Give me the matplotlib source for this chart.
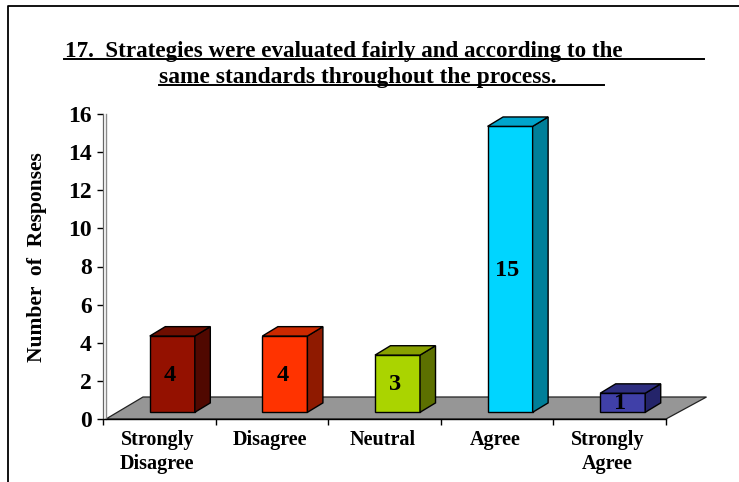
import matplotlib
matplotlib.use("Agg")
import matplotlib.pyplot as plt
from matplotlib.patches import Polygon
from matplotlib.transforms import ScaledTranslation

categories = ["Strongly\nDisagree", "Disagree", "Neutral", "Agree", "Strongly\nAgree"]
values = [4, 4, 3, 15, 1]
front_colors = ["#941100", "#ff3300", "#aad400", "#00d5ff", "#4040a8"]
top_colors = ["#6e0e00", "#cc2900", "#88a000", "#00a5cc", "#2e2e80"]
side_colors = ["#500800", "#8f1a00", "#5c7000", "#007f99", "#24246a"]
y_ticks = [0, 2, 4, 6, 8, 10, 12, 14, 16]

W, H = 739, 482
dpi = 100
FONT = "Liberation Serif"


def px(dx, dy, fig):
    return ScaledTranslation(dx / dpi, dy / dpi, fig.dpi_scale_trans)


def draw_bar(ax, fig, i, val):
    # front plane sits a bit inside the floor, depth goes up and right
    front = ax.transData + px(13, 6.7, fig)
    back = ax.transData + px(28.5, 16.1, fig)
    left = i + 0.3
    right = i + 0.7
    ax.bar(left, val, width=0.4, align="edge", color=front_colors[i], edgecolor="black",
           linewidth=1, transform=front, zorder=3)
    fl = front.transform([(left, 0), (right, 0), (left, val), (right, val)])
    bl = back.transform([(left, 0), (right, 0), (left, val), (right, val)])
    side = [fl[1], bl[1], bl[3], fl[3]]
    top = [fl[2], fl[3], bl[3], bl[2]]
    ax.add_patch(Polygon(side, closed=True, facecolor=side_colors[i], edgecolor="black",
                         linewidth=1, transform=None, zorder=3))
    ax.add_patch(Polygon(top, closed=True, facecolor=top_colors[i], edgecolor="black",
                         linewidth=1, transform=None, zorder=3))
    ax.text(i + 0.5, val / 2, str(val), transform=ax.transData + px(10.5, 5.5, fig),
            ha="center", va="center", fontsize=17.5, fontweight="bold", family=FONT,
            color="black", zorder=4)


fig = plt.figure(figsize=(W / dpi, H / dpi), dpi=dpi)
ax = fig.add_axes([103 / W, (H - 419) / H, 563 / W, 305 / H])
ax.set_xlim(0, len(categories))
ax.set_ylim(0, 16)
ax.patch.set_visible(False)

# floor
p0 = ax.transData.transform([(0, 0), (len(categories), 0)])
floor = [p0[0] + (3, 0), p0[1], p0[1] + (40.5, 22), p0[0] + (40, 22)]
ax.add_patch(Polygon(floor, closed=True, facecolor="#969696", edgecolor="#222222",
                     linewidth=0.9, transform=None, zorder=1, clip_on=False))

for i, val in enumerate(values):
    draw_bar(ax, fig, i, val)

for s in ["top", "right"]:
    ax.spines[s].set_visible(False)
ax.spines["left"].set_color("#666666")
ax.spines["left"].set_linewidth(0.9)
ax.spines["bottom"].set_linewidth(1)
# wall is drawn as a thin double line
ax.plot([0, 0], [0, 16], color="#8a8a8a", lw=1, transform=ax.transData + px(2.5, 0, fig),
        clip_on=False, zorder=2)

ax.set_yticks(y_ticks)
ax.set_yticklabels([str(t) for t in y_ticks], fontsize=17, fontweight="bold", family=FONT)
ax.tick_params(axis="y", length=4, width=1, pad=4)
ax.set_xticks(range(len(categories) + 1))
ax.set_xticklabels([""] * (len(categories) + 1))
ax.tick_params(axis="x", length=4, width=1, direction="out")

for i, c in enumerate(categories):
    ax.text(i + 0.5, 0, c, transform=ax.transData + px(-2, -11, fig), ha="center", va="top",
            fontsize=14.5, fontweight="bold", family=FONT, linespacing=1.3)

fig.text(37 / W, 1 - 257 / H, "Number  of  Responses", rotation=90, ha="center", va="center",
         fontsize=15.5, fontweight="bold", family=FONT)

# title with underline running past the text
fig.text(65 / W, 1 - 57 / H, "17.  Strategies were evaluated fairly and according to the",
         ha="left", va="baseline", fontsize=16.6, fontweight="bold", family=FONT)
fig.text(159 / W, 1 - 83 / H, "same standards throughout the process.",
         ha="left", va="baseline", fontsize=16.9, fontweight="bold", family=FONT)
fig.add_artist(plt.Line2D([64 / W, 704 / W], [1 - 59 / H] * 2, color="black", lw=1.4))
fig.add_artist(plt.Line2D([159 / W, 604 / W], [1 - 85 / H] * 2, color="black", lw=1.4))

# outer frame, only top and left are in the picture
fig.add_artist(plt.Line2D([8 / W, 8 / W, 1], [0, 1 - 6 / H, 1 - 6 / H], color="black", lw=1.3))

fig.savefig("out.png", dpi=dpi)
